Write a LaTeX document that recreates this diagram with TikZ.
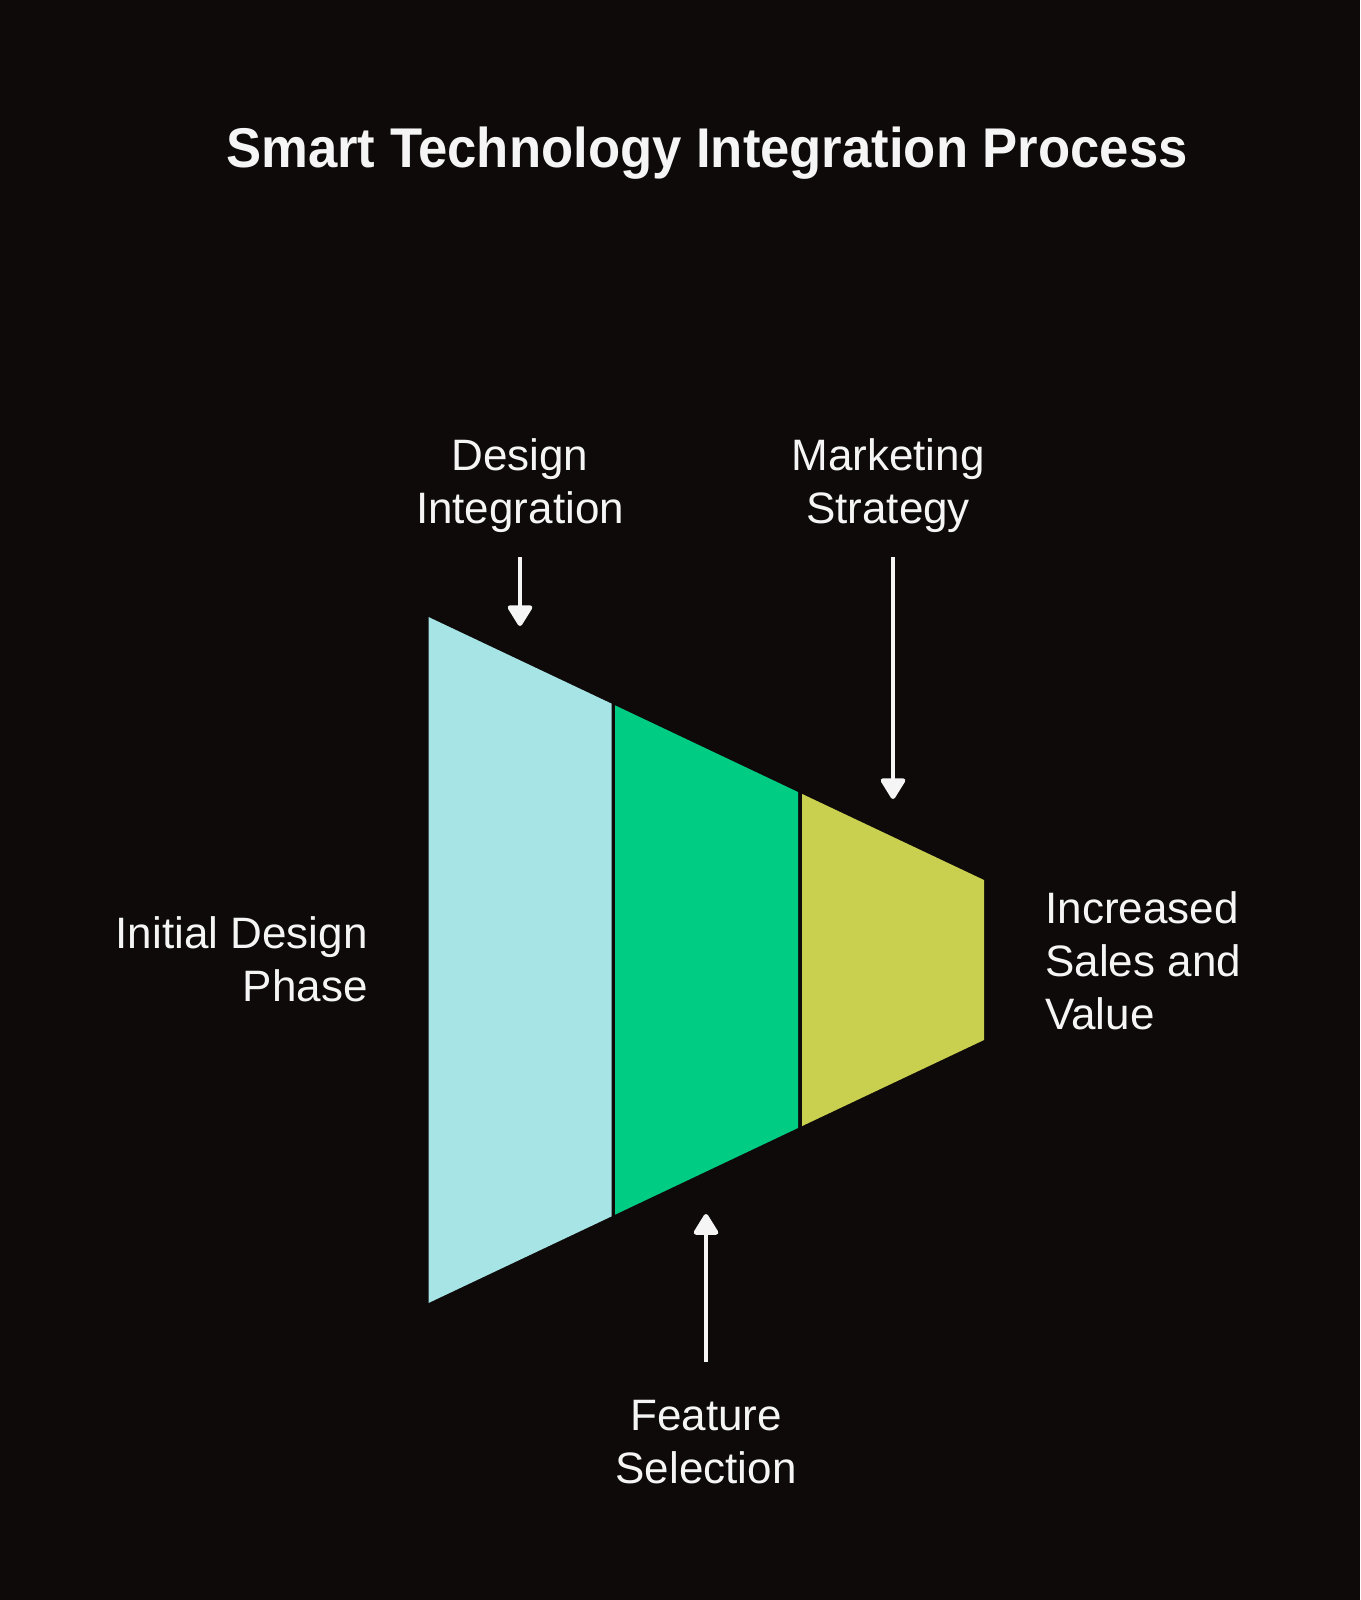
\documentclass[tikz,border=0pt]{standalone}
\usepackage{fontspec}
\setmainfont{Liberation Sans}
\newfontfamily\titlefont[FakeStretch=0.94]{Liberation Sans}
\usetikzlibrary{arrows.meta}
\definecolor{fondo}{RGB}{14,10,10}
\definecolor{cian}{RGB}{167,228,230}
\definecolor{verde}{RGB}{0,204,132}
\definecolor{oliva}{RGB}{201,207,78}
\definecolor{blanco}{RGB}{245,245,245}

\begin{document}
\begin{tikzpicture}[x=0.5pt,y=-0.5pt,
  lbl/.style={text=blanco,font=\fontsize{22}{26.5}\selectfont,inner sep=0pt},
  flecha/.style={draw=blanco,line width=2.3pt,-{Triangle[width=13.5pt,length=11.5pt,round]}}]
%fondo y bordes
\fill[fondo] (0,0) rectangle (1360,1600);
\useasboundingbox (0,0) rectangle (1360,1600);
%embudo
\fill[cian] (428.5,617)--(611.5,703.6)--(611.5,1216.4)--(428.5,1303)--cycle;
\fill[verde] (615,705.3)--(798,792)--(798,1128)--(615,1214.7)--cycle;
\fill[oliva] (802,793.9)--(984,880)--(984,1040)--(802,1126.1)--cycle;
%textos (base = ultima linea)
\path (707,167) node(titulo)[anchor=base,text=blanco,inner sep=0pt,font=\titlefont\fontsize{28}{34}\selectfont\bfseries]{Smart Technology Integration Process}
(520,523) node(di)[lbl,anchor=base,align=center]{Design\\Integration}
(888,523) node(ms)[lbl,anchor=base,align=center]{Marketing\\Strategy}
(368,1001) node(idp)[lbl,anchor=base east,align=right]{Initial Design\\Phase}
(1045,1029) node(isv)[lbl,anchor=base west,align=left]{Increased\\Sales and\\Value}
(706,1483) node(fs)[lbl,anchor=base,align=center]{Feature\\Selection};
%flechas
\coordinate (di1) at (520,557);
\coordinate (di2) at (520,626);
\coordinate (ms1) at (893,557);
\coordinate (ms2) at (893,799);
\coordinate (fs1) at (706,1362);
\coordinate (fs2) at (706,1214);
\draw[flecha](di1)--(di2);
\draw[flecha](ms1)--(ms2);
\draw[flecha](fs1)--(fs2);

\end{tikzpicture}
\end{document}
